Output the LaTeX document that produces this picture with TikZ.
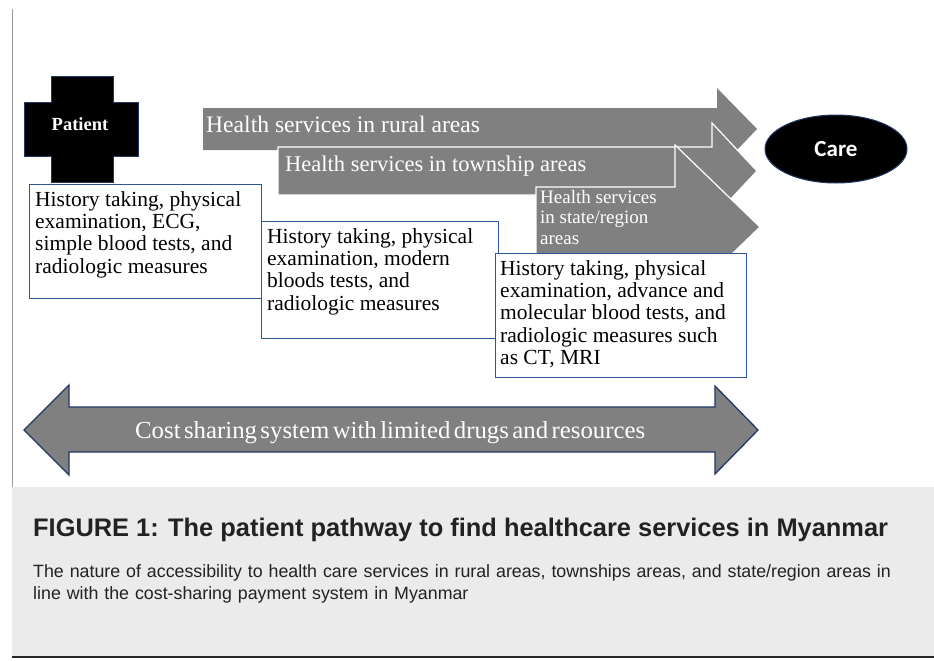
\documentclass[tikz,border=0pt]{standalone}
\usepackage{fontspec}
\setmainfont{Liberation Serif}
\newfontfamily\capfont{Liberation Sans}
\newfontfamily\carefont{Carlito}
\newfontfamily\costfont[WordSpace=0.55]{Liberation Serif}
\usetikzlibrary{positioning,shapes.geometric}

\definecolor{boxBlue}{HTML}{2F5597}
\definecolor{arrowGray}{HTML}{808080}
\definecolor{edgeNavy}{HTML}{203864}
\definecolor{captionGray}{HTML}{EBEBEB}
\definecolor{captionText}{HTML}{222222}

\tikzset{
	infoBox/.style={rectangle, draw=boxBlue, line width=1.3pt, fill=white, inner sep=0pt, anchor=north west},
	infoText/.style={anchor=north west, align=left, inner sep=0pt, font=\fontsize{21.5}{22.3}\selectfont},
	bandText/.style={text=white, anchor=west, inner sep=0pt, font=\fontsize{23}{26}\selectfont},
	bandShape/.style={fill=arrowGray, draw=white, line width=1.2pt}
}

\begin{document}
\begin{tikzpicture}[x=1pt, y=-1pt]
		\useasboundingbox (0,0) rectangle (934,661);

		% frame and caption
		\draw[color=black!40, line width=1pt] (12,9) -- (12,487);
		\fill[captionGray] (12,487) rectangle (934,656);
		\draw[color=black!85, line width=1.6pt] (12,657) -- (934,657);
		\node[anchor=west, inner sep=0pt, text=captionText, font=\capfont\bfseries\fontsize{25.4}{28}\selectfont](capTitle) at (33,530){FIGURE 1: The patient pathway to find healthcare services in Myanmar};
		\node[anchor=north west, inner sep=0pt, text=captionText, text width=885pt, align=left, font=\capfont\fontsize{17.8}{22}\selectfont](capSub) at (33,564){The nature of accessibility to health care services in rural areas, townships areas, and state/region areas in\\line with the cost-sharing payment system in Myanmar};

		% draw service arrows
		\fill[arrowGray] (203,108) -- (717,108) -- (717,88) -- (757,129) -- (717,171) -- (717,150) -- (203,150) -- cycle;
		\draw[bandShape] (278,147) -- (712,147) -- (712,123) -- (757,171) -- (712,219) -- (712,195) -- (278,195) -- cycle;
		\draw[bandShape] (536,187) -- (675,187) -- (675,145) -- (760,227) -- (675,309) -- (675,267) -- (536,267) -- cycle;

		\node[bandText, font=\fontsize{23.6}{26}\selectfont](ruralText) at (206,124){Health services in rural areas};
		\node[bandText, font=\fontsize{22.5}{26}\selectfont](townText) at (285,166){Health services in township areas};
		\node[bandText, anchor=north west, align=left, font=\fontsize{19}{20.5}\selectfont](stateText) at (540,190){Health services\\in state/region\\areas};

		% draw patient and care
		\draw[fill=black, draw=edgeNavy, line width=1pt] (51,76) -- (113,76) -- (113,102) -- (138,102) -- (138,156) -- (113,156) -- (113,182) -- (51,182) -- (51,156) -- (24,156) -- (24,102) -- (51,102) -- cycle;
		\node[text=white, inner sep=0pt, font=\bfseries\fontsize{18.5}{20}\selectfont](patient) at (80,124){Patient};
		\node[ellipse, fill=black, draw=edgeNavy, line width=1pt, minimum width=142pt, minimum height=68pt, text=white, font=\carefont\bfseries\fontsize{23}{26}\selectfont](care) at (836,149){Care};

		% draw info boxes
		\node[infoBox, minimum width=232pt, minimum height=114pt](box1) at (29,184){};
		\node[infoBox, minimum width=237pt, minimum height=117pt](box2) at (261,221){};
		\node[infoBox, minimum width=251pt, minimum height=124pt](box3) at (495,253){};
		\node[infoText](box1Text) at (35,191){History taking, physical\\examination, ECG,\\simple blood tests, and\\radiologic measures};
		\node[infoText](box2Text) at (267,228){History taking, physical\\examination, modern\\bloods tests, and\\radiologic measures};
		\node[infoText](box3Text) at (500,260){History taking, physical\\examination, advance and\\molecular blood tests, and\\radiologic measures such\\as CT, MRI};

		% draw cost arrow
		\draw[fill=arrowGray, draw=edgeNavy, line width=1.3pt] (24,430) -- (69,385) -- (69,407) -- (715,407) -- (715,386) -- (758,430) -- (715,474) -- (715,452) -- (69,452) -- (69,475) -- cycle;
		\node[text=white, inner sep=0pt, anchor=base west](costText) at (135,438){\resizebox{510pt}{17pt}{\costfont\fontsize{25}{28}\selectfont Cost sharing system with limited drugs and resources}};
	\end{tikzpicture}
\end{document}
